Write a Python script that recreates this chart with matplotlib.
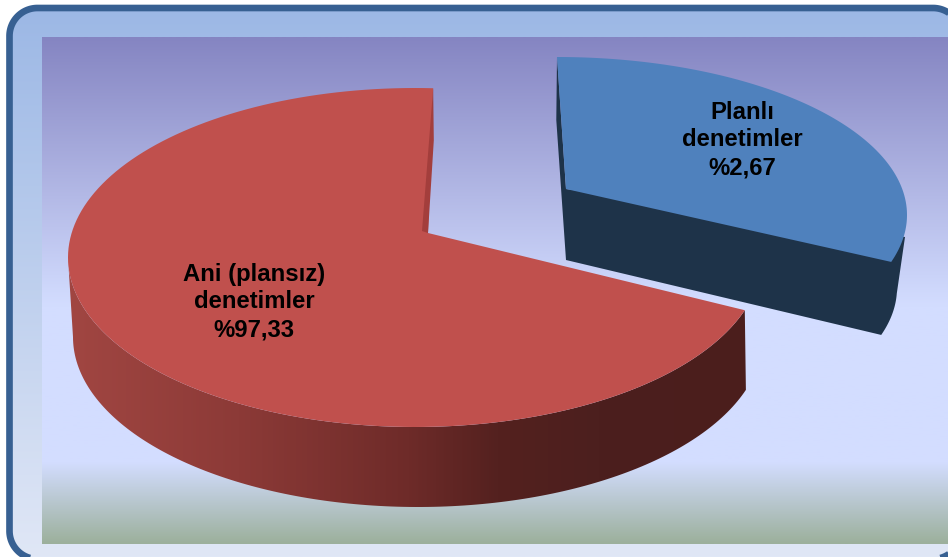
import numpy as np
import matplotlib
matplotlib.use('Agg')
import matplotlib.pyplot as plt
from matplotlib.colors import LinearSegmentedColormap
from matplotlib.patches import Polygon

# what the labels say
label_names = ['Planlı\ndenetimler', 'Ani (plansız)\ndenetimler']
label_values = [2.67, 97.33]
# share of the circle each slice really covers in the drawing (not the same as the labels)
drawn_share = [29.8, 70.8]
slice_colors = ['#4f81bd', '#c0504d']

plt.rcParams['font.family'] = ['Liberation Sans', 'DejaVu Sans']

fig = plt.figure(figsize=(9.48, 5.57), dpi=100, facecolor='white')
ax = fig.add_axes([0, 0, 1, 1])
ax.set_xlim(0, 948)
ax.set_ylim(557, 0)
ax.axis('off')


def vgrad(stops, box, clip=None, z=1):
    cmap = LinearSegmentedColormap.from_list('g', stops)
    im = ax.imshow(np.linspace(0, 1, 256)[:, None], cmap=cmap, extent=box, aspect='auto',
                   interpolation='bilinear', zorder=z)
    if clip is not None:
        im.set_clip_path(clip)
    return im


def arc(cx, cy, a, b, t0, t1):
    t = np.radians(np.linspace(t0, t1, 160))
    return np.column_stack([cx + a * np.cos(t), cy - b * np.sin(t)])


def round_rect(x0, y0, x1, y1, r):
    return np.vstack([arc(x1 - r, y0 + r, r, r, 90, 0), arc(x1 - r, y1 - r, r, r, 0, -90),
                      arc(x0 + r, y1 - r, r, r, -90, -180), arc(x0 + r, y0 + r, r, r, 180, 90)])


# frame
frame = Polygon(round_rect(9.5, 8, 961, 559, 28), closed=True, fc='none', ec='#376092',
                lw=4.8, zorder=3)
ax.add_patch(frame)
vgrad([(0, '#9bb7e5'), (1, '#e0e7f6')], (0, 948, 557, 0), clip=frame, z=1)

# plot area
inner = [(0, '#8585c2'), (0.53, '#d3ddff'), (0.84, '#d3ddff'), (1, '#9cb09c')]
vgrad(inner, (42, 948, 544, 37), z=2)

# blue slice, pulled out
b_sweep = drawn_share[0] / 100 * 360
b_start, b_end = 90 - b_sweep, 90
b_top = arc(557, 215, 350, 158, b_start, b_end)
b_low = arc(547, 288, 350, 158, b_start, -2)
b_apex = np.array([566, 189])
b_apex2 = np.array([566, 260])
b_kink = b_top[-1] + 0.31 * (b_apex2 - b_top[-1]) - [3.5, 0]
ax.add_patch(Polygon(np.vstack([b_top[-1], b_kink, b_apex2, b_low, [[905, 237]], b_apex]),
                     fc='#1e3349', ec='none', zorder=4))
ax.add_patch(Polygon(np.vstack([b_top, b_apex]), fc=slice_colors[0], ec='none', zorder=5))

# red slice
r_sweep = drawn_share[1] / 100 * 360
r_start, r_end = 87, 87 + r_sweep
r_top = arc(415, 257.5, 347, 169.5, r_start, r_end)
r_apex = np.array([428, 233])
r_edge = arc(415, 257.5, 347, 169.5, 180, r_end)
r_low = arc(418, 337, 345, 170, r_end, 180)
side = Polygon(np.vstack([r_edge, r_low]), fc='none', ec='none', zorder=6)
ax.add_patch(side)
side_stops = [(0, '#a14642'), (0.25, '#8c3a37'), (0.5, '#6e2b29'), (0.63, '#54211f'),
              (0.78, '#4c1f1e'), (1, '#4b1e1c')]
cm = LinearSegmentedColormap.from_list('side', side_stops)
im = ax.imshow(np.linspace(0, 1, 256)[None, :], cmap=cm, extent=(68, 750, 510, 250),
               aspect='auto', zorder=6)
im.set_clip_path(side)
ax.add_patch(Polygon(np.vstack([r_top, r_apex]), fc=slice_colors[1], ec='none', zorder=7))
r_kink = r_top[0] + 0.36 * (r_apex - r_top[0]) + [2.5, 0]
ax.add_patch(Polygon(np.vstack([r_top[0], r_kink, r_apex, r_apex - [6, 2]]),
                     fc='#a33e3c', ec='none', zorder=8))

ax.set_xlim(0, 948)
ax.set_ylim(557, 0)

# labels
label_pos = [(742, 140), (254, 302)]
for name, val, (x, y) in zip(label_names, label_values, label_pos):
    txt = name + '\n%' + f'{val:.2f}'.replace('.', ',')
    ax.text(x, y, txt, ha='center', va='center', fontsize=17.2, fontweight='bold',
            color='black', linespacing=1.25, zorder=9)

fig.savefig('out.png', dpi=100)
